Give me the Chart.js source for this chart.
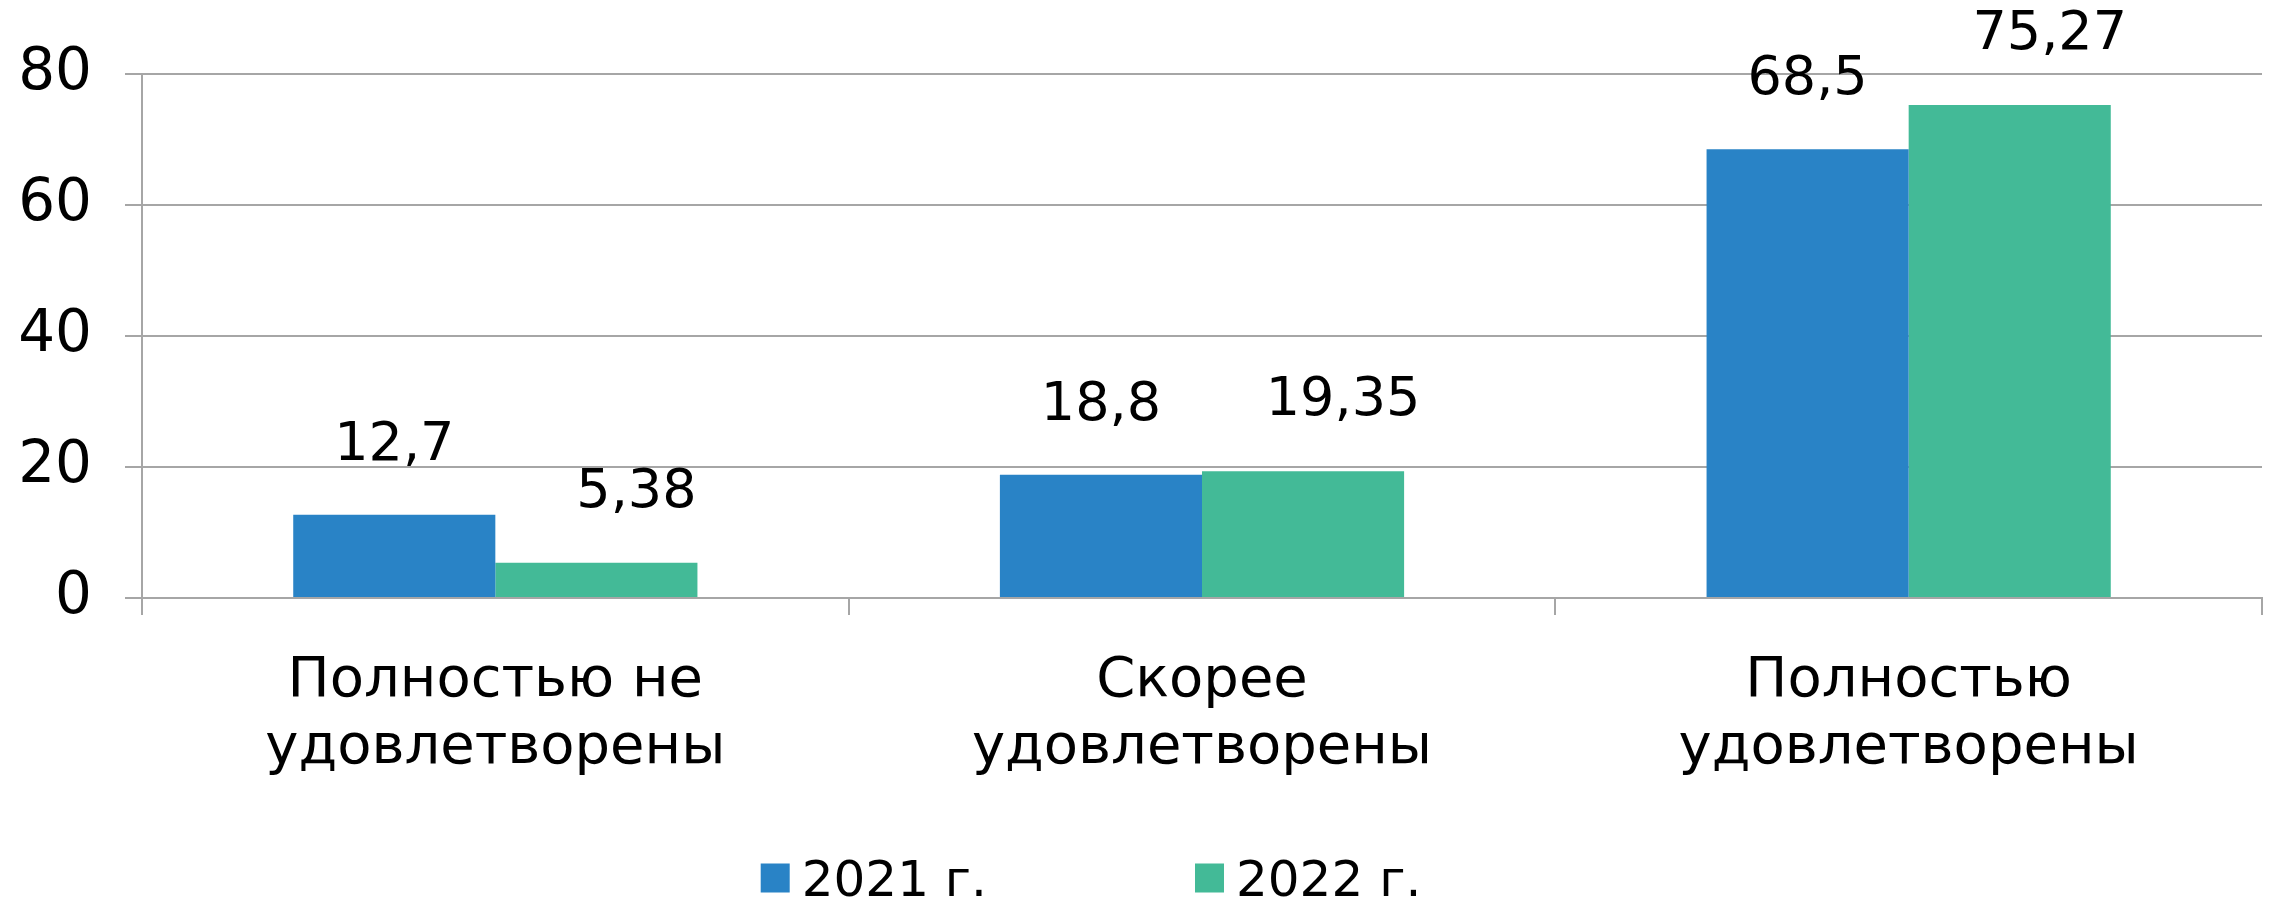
<!DOCTYPE html>
<html><head><meta charset="utf-8">
<script src="https://cdn.jsdelivr.net/npm/chart.js@4/dist/chart.umd.min.js"></script>
<style>html,body{margin:0;padding:0;background:#fff}#wrap{width:2274px;height:900px}</style>
</head><body><div id="wrap"><canvas id="c" width="2274" height="900"></canvas></div>
<script>
const categories = [["Полностью не", "удовлетворены"], ["Скорее", "удовлетворены"], ["Полностью", "удовлетворены"]];
const seriesNames = ["2021 г.", "2022 г."];
const values2021 = [12.7, 18.8, 68.5];
const values2022 = [5.38, 19.35, 75.27];
const yTickValues = [0, 20, 40, 60, 80];

const FONT = "'DejaVu Sans', sans-serif";
const GRID = "#A6A6A6";
const colors = ["#2983C6", "#43BA97"];

const fmt = v => String(v).replace('.', ',');

const valueLabels = {
  id: 'valueLabels',
  afterDatasetsDraw(chart, args, opts) {
    const ctx = chart.ctx;
    ctx.save();
    ctx.font = opts.size + "px " + FONT;
    ctx.fillStyle = '#000';
    ctx.textAlign = 'center';
    ctx.textBaseline = 'alphabetic';
    chart.data.datasets.forEach((ds, di) => {
      const meta = chart.getDatasetMeta(di);
      const off = opts.offsets[di];
      meta.data.forEach((bar, i) => {
        ctx.fillText(fmt(ds.data[i]), bar.x + off.dx, bar.y - off.dy);
      });
    });
    ctx.restore();
  }
};

const customLegend = {
  id: 'customLegend',
  afterDraw(chart, args, opts) {
    const ctx = chart.ctx;
    ctx.save();
    ctx.font = opts.size + "px " + FONT;
    ctx.textBaseline = 'alphabetic';
    ctx.textAlign = 'left';
    const items = chart.data.datasets.map(ds => ({ text: ds.label, color: ds.backgroundColor, w: ctx.measureText(ds.label).width }));
    const total = items.reduce((s, it) => s + opts.box + opts.gap + it.w, 0) + opts.spacing * (items.length - 1);
    let x = opts.centerX - total / 2;
    items.forEach(it => {
      ctx.fillStyle = it.color;
      ctx.fillRect(x, opts.centerY - opts.box / 2, opts.box, opts.box);
      x += opts.box + opts.gap;
      ctx.fillStyle = '#000';
      ctx.fillText(it.text, x, opts.centerY + opts.size * 0.36);
      x += it.w + opts.spacing;
    });
    ctx.restore();
  }
};

new Chart(document.getElementById('c'), {
  type: 'bar',
  data: {
    labels: categories,
    datasets: [
      { label: seriesNames[0], data: values2021, backgroundColor: colors[0], borderWidth: 0 },
      { label: seriesNames[1], data: values2022, backgroundColor: colors[1], borderWidth: 0 }
    ]
  },
  options: {
    responsive: false,
    animation: false,
    devicePixelRatio: 1,
    layout: { padding: { top: 74, right: 12, left: 0, bottom: 0 } },
    datasets: { bar: { categoryPercentage: 0.572, barPercentage: 1.0 } },
    plugins: {
      legend: { display: false },
      tooltip: { enabled: false },
      valueLabels: { size: 54, offsets: [{ dx: 0, dy: 55 }, { dx: 40, dy: 56 }] },
      customLegend: { size: 50, box: 29, gap: 12, spacing: 208, centerX: 1091, centerY: 878 }
    },
    scales: {
      x: {
        grid: { display: true, offset: true, drawOnChartArea: false, drawTicks: true, tickLength: 17, color: GRID, lineWidth: 2 },
        border: { display: true, color: GRID, width: 2 },
        ticks: { color: '#000', font: { family: FONT, size: 56, lineHeight: 1.2 }, padding: 33, maxRotation: 0, autoSkip: false },
        afterFit(scale) { scale.height = 302; }
      },
      y: {
        min: 0, max: 80,
        afterBuildTicks(scale) { scale.ticks = yTickValues.map(v => ({ value: v })); },
        grid: { color: GRID, lineWidth: 2, tickLength: 17, drawTicks: true },
        border: { display: true, color: GRID, width: 2 },
        ticks: { color: '#000', font: { family: FONT, size: 58 }, padding: 33 },
        afterFit(scale) { scale.width = 142; }
      }
    }
  },
  plugins: [valueLabels, customLegend]
});
</script></body></html>
